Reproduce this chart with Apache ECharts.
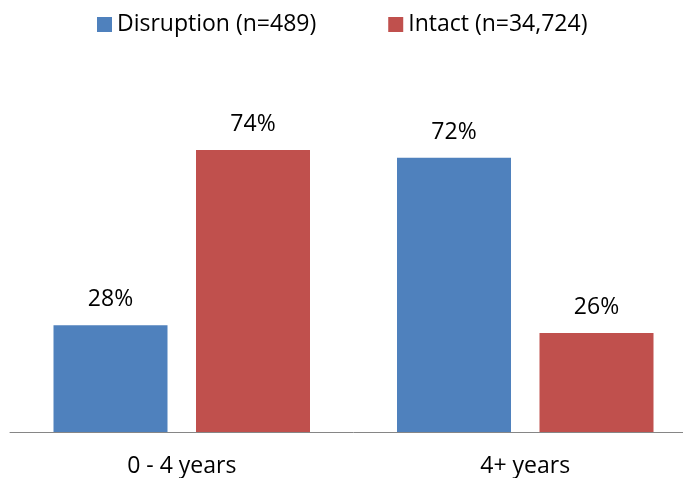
<!DOCTYPE html>
<html><head><meta charset="utf-8">
<script src="https://cdn.jsdelivr.net/npm/echarts@6/dist/echarts.min.js"></script>
<style>html,body{margin:0;padding:0;background:#fff;overflow:hidden;width:683px;height:478px}#c{width:697px;height:478px}</style>
</head><body><div id="c"></div>
<script>
const categories = ['0 - 4 years', '4+ years'];
const disruption = [28, 72];
const intact = [74, 26];
const seriesNames = ['Disruption (n=489)', 'Intact (n=34,724)'];
const font = 'Open Sans';
const chart = echarts.init(document.getElementById('c'));
const lbl = {show: true, position: 'top', distance: 14, formatter: '{c}%', color: '#000', fontSize: 23, fontFamily: font};
chart.setOption({
  animation: false,
  legend: {top: 13, left: 97, padding: 0, itemWidth: 15, itemHeight: 15, itemGap: 72, icon: 'rect',
    textStyle: {fontSize: 23, fontFamily: font, color: '#000'}},
  grid: {left: 10, top: 51, right: 0, bottom: 44},
  xAxis: {type: 'category', data: categories,
    axisLine: {lineStyle: {color: '#868686', width: 1}}, axisTick: {show: false},
    axisLabel: {fontSize: 23, fontFamily: font, color: '#000', margin: 23}},
  yAxis: {type: 'value', min: 0, max: 100, show: false, splitLine: {show: false}},
  series: [
    {name: seriesNames[0], type: 'bar', data: disruption, barWidth: 114, barGap: '25%', itemStyle: {color: '#4F81BD'}, label: lbl},
    {name: seriesNames[1], type: 'bar', data: intact, barWidth: 114, itemStyle: {color: '#C0504D'}, label: lbl}
  ]
});
</script></body></html>
